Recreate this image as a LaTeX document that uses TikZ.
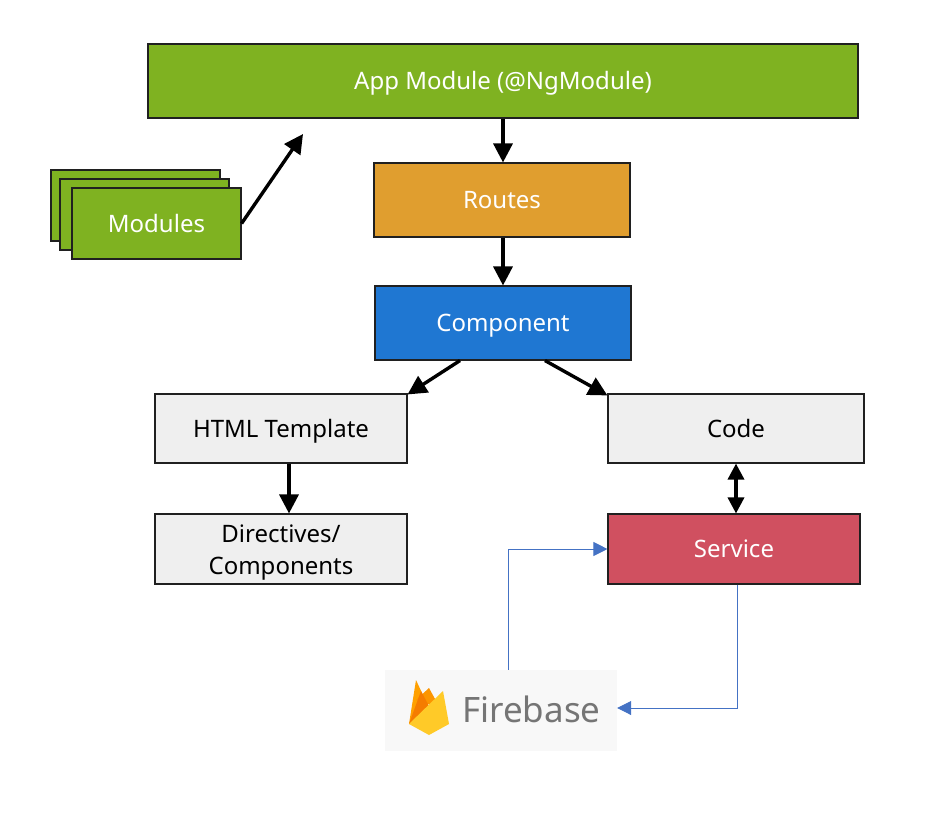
\documentclass[tikz,border=0pt]{standalone}
\usepackage{fontspec}
\setmainfont{Noto Sans}
\usepackage{xcolor}
\usetikzlibrary{arrows.meta, positioning, calc}
\definecolor{modulegreen}{HTML}{7FB221}
\definecolor{routeorange}{HTML}{E09E2F}
\definecolor{compblue}{HTML}{1F77D2}
\definecolor{servicered}{HTML}{D05060}
\definecolor{boxgrey}{HTML}{EFEFEF}
\definecolor{edgegrey}{HTML}{202020}
\definecolor{linkblue}{HTML}{4472C4}
\definecolor{firebasebg}{HTML}{F8F8F8}
\definecolor{firebasetxt}{HTML}{757575}
\definecolor{flameback}{HTML}{FFA000}
\definecolor{flamemid}{HTML}{F57C00}
\definecolor{flamefront}{HTML}{FFCA28}
\tikzset{
    box/.style={draw=edgegrey, line width=1.1pt, minimum width=#1, inner sep=0pt,
                align=center, font=\fontsize{24}{32}\selectfont},
    oneline/.style={text height=23pt, text depth=6pt},
    colorbox/.style={box=#1, oneline, text=white},
    flow/.style={-{Triangle[length=19pt,width=19pt]}, line width=3.4pt, black},
    link/.style={-{Triangle[length=14pt,width=14pt]}, line width=0.9pt, linkblue},
}
\begin{document}
\begin{tikzpicture}[x=1pt, y=-1pt]
        \useasboundingbox (0,0) rectangle (935,815);
        % top row
        \node[colorbox=710pt, minimum height=74pt, fill=modulegreen] (app) at (503,81) {App Module (@NgModule)};
        \node[colorbox=256pt, minimum height=74pt, fill=routeorange] (routes) at (502,200) {Routes};
        \node[colorbox=256pt, minimum height=74pt, fill=compblue] (component) at (503,323) {Component};
        % stack of modules
        \node[box=169pt, minimum height=71pt, fill=modulegreen] (modback) at (135.5,205.5) {};
        \node[box=169pt, minimum height=71pt, fill=modulegreen] (modmid) at (144.5,214.5) {};
        \node[colorbox=169pt, minimum height=71pt, fill=modulegreen] (modules) at (156.5,223.5) {Modules};
        \coordinate (modtarget) at (303,134);
        % grey boxes
        \node[box=252pt, oneline, minimum height=69pt, fill=boxgrey] (html) at (281,428.5) {HTML Template};
        \node[box=256pt, oneline, minimum height=69pt, fill=boxgrey] (code) at (736,428.5) {Code};
        \node[box=252pt, minimum height=70pt, fill=boxgrey] (directives) at (281,549) {\rule{0pt}{24pt}Directives/\\Components};
        \node[colorbox=252pt, minimum height=70pt, fill=servicered] (service) at (734,549) {Service};
        % firebase
        \node[fill=firebasebg, minimum width=232pt, minimum height=81pt, inner sep=0pt] (firebase) at (501,710.5) {};
        \node[text=firebasetxt, font=\fontsize{35}{40}\selectfont, inner sep=0pt, anchor=west] (firebasetext) at (462,709) {Firebase};
        \fill[flameback] (409,724) -- (416,680) -- (430,710) -- cycle;
        \fill[flameback!70!flamemid] (416,700) -- (429,688) -- (440,708) -- cycle;
        \fill[flamemid] (409,724) -- (421,691) -- (429,706) -- cycle;
        \fill[flamefront] (409,724) -- (443,691) -- (449,724) -- (429,735) -- cycle;
        % connectors
        \draw[flow] (app.south) -- ([xshift=1pt]routes.north);
        \draw[flow] ([xshift=1pt]routes.south) -- (component.north);
        \draw[flow] (modules.east) -- (modtarget);
        \draw[flow] ([xshift=-43pt]component.south) -- ([yshift=-1pt]html.north east);
        \draw[flow] ([xshift=42pt]component.south) -- ([yshift=-2pt]code.north west);
        \draw[flow] ([xshift=8pt]html.south) -- ([xshift=8pt]directives.north);
        \draw[{Triangle[length=16pt,width=16pt]}-{Triangle[length=16pt,width=16pt]}, line width=3.4pt] (code.south) -- ([xshift=2pt]service.north);
        \draw[link] ([xshift=7pt]firebase.north) |- (service.west);
        \draw[link] ([xshift=3pt]service.south) |- ([yshift=2.5pt]firebase.east);
    \end{tikzpicture}
\end{document}
